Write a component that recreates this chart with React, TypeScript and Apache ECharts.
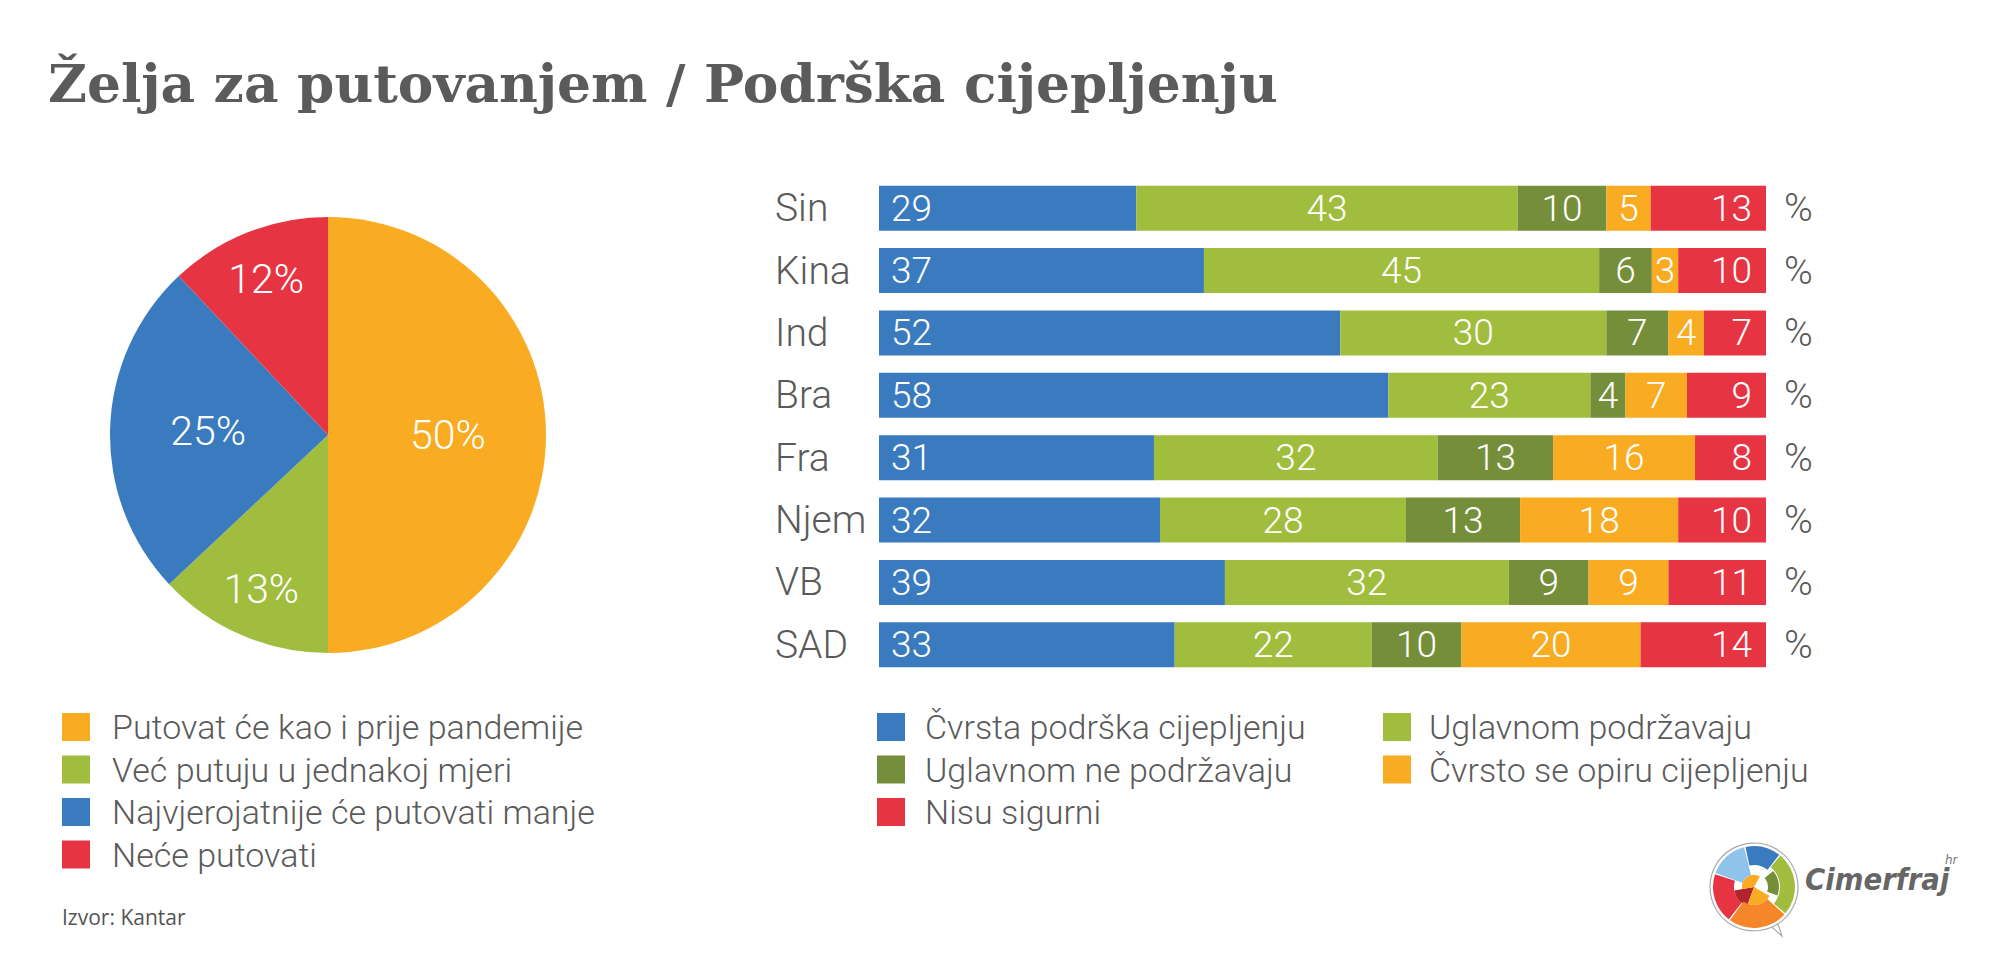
import React, { useEffect, useRef } from "react";
import * as echarts from "echarts";

const titleText = "Želja za putovanjem / Podrška cijepljenju";
const sourceText = "Izvor: Kantar";

const pieNames = [
  "Putovat će kao i prije pandemije",
  "Već putuju u jednakoj mjeri",
  "Najvjerojatnije će putovati manje",
  "Neće putovati",
];
const pieValues = [50, 13, 25, 12];
const pieColors = ["#F9AB21", "#A1BD3E", "#3A7BBF", "#E73443"];

const categories = ["Sin", "Kina", "Ind", "Bra", "Fra", "Njem", "VB", "SAD"];
const seriesNames = [
  "Čvrsta podrška cijepljenju",
  "Uglavnom podržavaju",
  "Uglavnom ne podržavaju",
  "Čvrsto se opiru cijepljenju",
  "Nisu sigurni",
];
const firmSupport = [29, 37, 52, 58, 31, 32, 39, 33];
const mostlySupport = [43, 45, 30, 23, 32, 28, 32, 22];
const mostlyNot = [10, 6, 7, 4, 13, 13, 9, 10];
const firmOppose = [5, 3, 4, 7, 16, 18, 9, 20];
const notSure = [13, 10, 7, 9, 8, 10, 11, 14];
const barColors = ["#3A7BBF", "#A1BD3E", "#758E3A", "#F9AB21", "#E73443"];

const LIGHT = "Roboto";
const GRAY = "#5a5a5a";

export default function App() {
  const ref = useRef<HTMLDivElement>(null);
  useEffect(() => {
    if (!ref.current) return;
    const chart = echarts.init(ref.current, null, { renderer: "svg" });
    const rows = [firmSupport, mostlySupport, mostlyNot, firmOppose, notSure];
    const totals = categories.map((_, i) => rows.reduce((s, r) => s + r[i], 0));
    const labelPos = ["insideLeft", "inside", "inside", "inside", "insideRight"];
    const labelDist = [12, 5, 5, 5, 14];

    const barSeries = rows.map((r, si) => ({
      type: "bar",
      name: seriesNames[si],
      stack: "all",
      barWidth: 45,
      xAxisIndex: 0,
      yAxisIndex: 0,
      itemStyle: { color: barColors[si] },
      silent: true,
      label: {
        show: true,
        position: labelPos[si],
        distance: labelDist[si],
        color: "#fff",
        fontFamily: LIGHT,
        fontWeight: 300,
        fontSize: 37,
        formatter: (p: any) => String(r[p.dataIndex]),
      },
      data: r.map((v, i) => (v / totals[i]) * 100),
    }));

    const pieCenter = [328, 435];
    const pieMain = {
      type: "pie",
      center: pieCenter,
      radius: [0, 218],
      startAngle: 90,
      clockwise: true,
      silent: true,
      label: { show: false },
      labelLine: { show: false },
      data: pieNames.map((n, i) => ({ name: n, value: pieValues[i], itemStyle: { color: pieColors[i] } })),
    };
    const pieLabelLayer = (outer: number, showBig: boolean) => ({
      type: "pie",
      center: pieCenter,
      radius: [0, outer],
      startAngle: 90,
      clockwise: true,
      silent: true,
      itemStyle: { color: "rgba(0,0,0,0)" },
      labelLine: { show: false },
      data: pieNames.map((n, i) => ({
        name: n,
        value: pieValues[i],
        itemStyle: { color: "rgba(0,0,0,0)" },
        label: {
          show: showBig ? pieValues[i] >= 25 : pieValues[i] < 25,
          position: "inside",
          color: "#fff",
          fontFamily: LIGHT,
          fontWeight: 300,
          fontSize: 41,
          formatter: "{c}%",
        },
      })),
    });

    const legendText = {
      color: GRAY,
      fontFamily: LIGHT,
      fontWeight: 300,
      fontSize: 34,
    };
    const legendBase = {
      orient: "vertical",
      top: 710,
      padding: 0,
      itemWidth: 28,
      itemHeight: 28,
      itemGap: 8.5,
      icon: "rect",
      selectedMode: false,
    };

    const cx = 1754, cy = 887;
    const deg = (a: number) => (-a * Math.PI) / 180;
    const sec = (r0: number, r: number, a0: number, a1: number, fill: string) => ({
      type: "sector",
      shape: { cx, cy, r0, r, startAngle: deg(a1), endAngle: deg(a0), clockwise: true },
      style: { fill },
      silent: true,
    });

    chart.setOption({
      animation: false,
      backgroundColor: "#ffffff",
      graphic: [
        {
          type: "text",
          x: 48,
          y: 84,
          scaleX: 1.007,
          style: {
            text: titleText,
            font: 'bold 53px "DejaVu Serif"',
            fill: "#5b5b5b",
            align: "left",
            verticalAlign: "middle",
          },
        },
        {
          type: "text",
          x: 62,
          y: 917,
          style: {
            text: sourceText,
            font: '21px "Open Sans"',
            fill: "#555",
            align: "left",
            verticalAlign: "middle",
          },
        },
        {
          type: "polygon",
          shape: { points: [[1766, 922], [1782, 936], [1776, 918]] },
          style: { fill: "#fff", stroke: "#aaa", lineWidth: 1.2 },
          silent: true,
        },
        {
          type: "circle",
          shape: { cx, cy, r: 44 },
          style: { fill: "#fff", stroke: "#aaa", lineWidth: 1.2 },
          silent: true,
        },
        sec(22, 41, 52, 102, "#3A7BBF"),
        sec(12, 41, 104, 160, "#8EC3EA"),
        sec(26, 41, -40, 50, "#A1BD3E"),
        sec(14, 25, -20, 40, "#758E3A"),
        sec(20, 41, 162, 232, "#E73443"),
        sec(0, 20, 190, 250, "#B0242E"),
        sec(18, 41, 234, 318, "#F5862A"),
        sec(0, 18, 250, 330, "#F9AB21"),
        sec(0, 12, 60, 190, "#F9AB21"),
        {
          type: "text",
          x: 1805,
          y: 880,
          scaleX: 0.92,
          style: {
            text: "Cimerfraj",
            font: 'italic bold 30px "DejaVu Sans"',
            fill: "#666",
            align: "left",
            verticalAlign: "middle",
          },
        },
        {
          type: "text",
          x: 1945,
          y: 860,
          style: {
            text: "hr",
            font: 'italic 12px "DejaVu Sans"',
            fill: "#777",
            align: "left",
            verticalAlign: "middle",
          },
        },
      ],
      legend: [
        {
          ...legendBase,
          left: 62,
          data: pieNames,
          textStyle: { ...legendText, padding: [0, 0, 0, 17] },
        },
        {
          ...legendBase,
          left: 877,
          data: [seriesNames[0], seriesNames[2], seriesNames[4]],
          textStyle: { ...legendText, padding: [0, 0, 0, 15] },
        },
        {
          ...legendBase,
          left: 1383,
          data: [seriesNames[1], seriesNames[3]],
          textStyle: { ...legendText, padding: [0, 0, 0, 13] },
        },
      ],
      grid: { left: 879, top: 177, width: 887, height: 499, containLabel: false },
      xAxis: { type: "value", min: 0, max: 100, show: false },
      yAxis: [
        {
          type: "category",
          inverse: true,
          data: categories,
          axisLine: { show: false },
          axisTick: { show: false },
          splitLine: { show: false },
          axisLabel: {
            align: "left",
            margin: 104,
            color: GRAY,
            fontFamily: LIGHT,
            fontWeight: 300,
            fontSize: 39,
          },
        },
        {
          type: "category",
          inverse: true,
          position: "right",
          data: categories,
          axisLine: { show: false },
          axisTick: { show: false },
          splitLine: { show: false },
          axisLabel: {
            align: "left",
            margin: 18,
            color: GRAY,
            fontFamily: LIGHT,
            fontWeight: 300,
            fontSize: 39,
            formatter: () => "%",
          },
        },
      ],
      series: [pieMain, pieLabelLayer(234, true), pieLabelLayer(330, false), ...barSeries],
    });
    return () => chart.dispose();
  }, []);
  return (
    <div
      ref={ref}
      style={{ position: "absolute", left: 0, top: 0, width: 2000, height: 955, background: "#fff" }}
    />
  );
}
